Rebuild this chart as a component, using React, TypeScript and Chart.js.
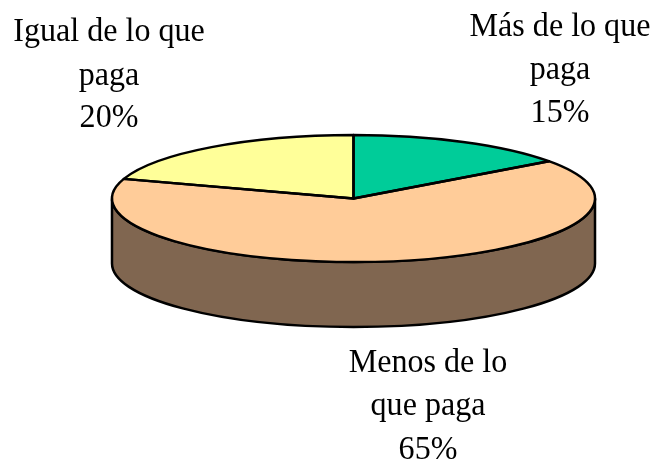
import React, { useEffect, useRef } from "react";
import { Chart, registerables } from "chart.js";

Chart.register(...registerables);

const categories = ["Más de lo que paga", "Menos de lo que paga", "Igual de lo que paga"];
const shares = [15, 65, 20];
const sliceColors = ["#00CC99", "#FFCC99", "#FFFF99"];
const labelLines = [
  ["Más de lo que", "paga", "15%"],
  ["Menos de lo", "que paga", "65%"],
  ["Igual de lo que", "paga", "20%"],
];
const labelCenters = [560, 428, 109];
const labelBaselines = [
  [36, 79, 122],
  [372, 415, 459],
  [41, 85, 127],
];

const WALL_COLOR = "#806650";
const CX = 353.5;
const CY = 198.5;
const RX = 241.5;
const RY = 63.5;
const DEPTH = 65;
const LINE = 2.5;
const FONT = '34.5px "Liberation Serif", serif';
const TEXT_STRETCH = 0.93;

const pie3d = {
  id: "pie3d",
  beforeDatasetsDraw(chart: any) {
    const arc = chart.getDatasetMeta(0).data[0];
    const ctx = chart.ctx;
    ctx.save();
    ctx.lineWidth = LINE;
    ctx.strokeStyle = "#000";
    ctx.fillStyle = WALL_COLOR;
    ctx.beginPath();
    ctx.moveTo(CX - RX, CY);
    ctx.lineTo(CX - RX, CY + DEPTH);
    ctx.ellipse(CX, CY + DEPTH, RX, RY, 0, Math.PI, 0, true);
    ctx.lineTo(CX + RX, CY);
    ctx.ellipse(CX, CY, RX, RY, 0, 0, Math.PI, false);
    ctx.closePath();
    ctx.fill();
    ctx.stroke();
    ctx.restore();
    ctx.save();
    ctx.translate(CX, CY);
    ctx.scale(RX / arc.outerRadius, RY / arc.outerRadius);
    ctx.translate(-arc.x, -arc.y);
  },
  afterDatasetsDraw(chart: any) {
    const ctx = chart.ctx;
    ctx.restore();
    ctx.save();
    ctx.lineWidth = LINE;
    ctx.strokeStyle = "#000";
    ctx.lineJoin = "round";
    chart.getDatasetMeta(0).data.forEach((arc: any) => {
      ctx.beginPath();
      ctx.moveTo(CX, CY);
      ctx.ellipse(CX, CY, RX, RY, 0, arc.startAngle, arc.endAngle);
      ctx.closePath();
      ctx.stroke();
    });
    ctx.restore();
  },
  afterDraw(chart: any) {
    const ctx = chart.ctx;
    ctx.save();
    ctx.font = FONT;
    ctx.fillStyle = "#000";
    ctx.textAlign = "center";
    ctx.textBaseline = "alphabetic";
    labelLines.forEach((lines, i) => {
      lines.forEach((text, j) => {
        ctx.save();
        ctx.translate(labelCenters[i], labelBaselines[i][j]);
        ctx.scale(TEXT_STRETCH, 1);
        ctx.fillText(text, 0, 0);
        ctx.restore();
      });
    });
    ctx.restore();
  },
};

export default function App() {
  const ref = useRef<HTMLCanvasElement>(null);
  useEffect(() => {
    const chart = new Chart(ref.current as HTMLCanvasElement, {
      type: "pie",
      data: {
        labels: categories,
        datasets: [
          {
            data: shares,
            backgroundColor: sliceColors,
            borderWidth: 0,
            clip: false as any,
          },
        ],
      },
      options: {
        responsive: false,
        animation: false,
        events: [],
        layout: { padding: 0 },
        plugins: { legend: { display: false }, tooltip: { enabled: false } },
      },
      plugins: [pie3d],
    });
    return () => chart.destroy();
  }, []);
  return (
    <div style={{ position: "absolute", left: 0, top: 0, width: 654, height: 461, background: "#fff" }}>
      <canvas ref={ref} width={654} height={461} style={{ display: "block" }} />
    </div>
  );
}
